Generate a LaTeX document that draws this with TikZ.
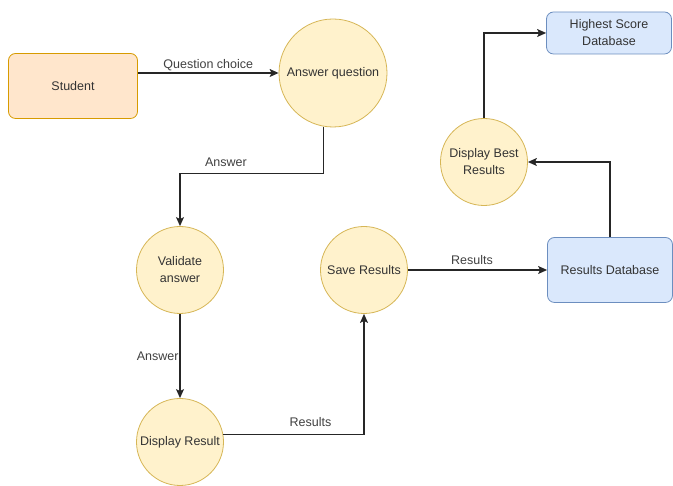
\documentclass[tikz,border=0pt]{standalone}
\usepackage{fontspec}
\setmainfont{Liberation Sans}
\usepackage{xcolor}
\usetikzlibrary{shapes,arrows.meta}

\definecolor{procfill}{HTML}{FFF2CC}
\definecolor{procline}{HTML}{D6B656}
\definecolor{userfill}{HTML}{FFE6CC}
\definecolor{userline}{HTML}{D79B00}
\definecolor{dbfill}{HTML}{DAE8FC}
\definecolor{dbline}{HTML}{6C8EBF}

\begin{document}
\begin{tikzpicture}[
    x=1pt, y=1pt,
    font=\fontsize{12.5}{17}\selectfont,
    process/.style={circle, draw=procline, fill=procfill, line width=0.8pt, text=black!80, align=center, inner sep=0pt, minimum size=87pt},
    entity/.style={rectangle, draw=userline, fill=userfill, line width=0.8pt, rounded corners=7pt, text=black!80, minimum width=129pt, minimum height=65pt},
    datastore/.style={rectangle, draw=dbline, fill=dbfill, line width=0.8pt, rounded corners=7pt, text=black!80, align=center, minimum width=125pt},
    arrow/.style={-{Stealth[length=9pt, width=8pt, inset=2pt]}, line width=1.1pt, black!85},
    flowlabel/.style={text=black!75, inner sep=2pt}
]
\useasboundingbox (0,0) rectangle (673,486);

% External entity
\node[entity] (student) at (73,400) {Student};

% Processes
\node[process, minimum size=108pt] (answer) at (333,413) {Answer question};
\node[process] (validate) at (180,216) {Validate\\answer};
\node[process] (display) at (180,44) {Display Result};
\node[process] (save) at (364,216) {Save Results};
\node[process] (best) at (484,324) {Display Best\\Results};

% Data stores
\node[datastore, minimum height=65pt] (results) at (610,216) {Results Database};
\node[datastore, minimum height=42pt] (highest) at (609,453) {Highest Score\\Database};

% Arrows
\draw[arrow] (student.east |- answer) -- node[flowlabel, above=0pt] {Question choice} (answer);
\draw[arrow] (answer.260) -- ++(0,-47) -| node[flowlabel, pos=0.34, above=4pt] {Answer} (validate);
\draw[arrow] (validate) -- node[flowlabel, left=-1pt] {Answer} (display);
\draw[arrow] (display.10) -| node[flowlabel, pos=0.31, above=5pt] {Results} (save);
\draw[arrow] (save) -- node[flowlabel, pos=0.46, above=3pt] {Results} (results);
\draw[arrow] (results) |- (best);
\draw[arrow] (best) |- (highest);

\end{tikzpicture}
\end{document}
